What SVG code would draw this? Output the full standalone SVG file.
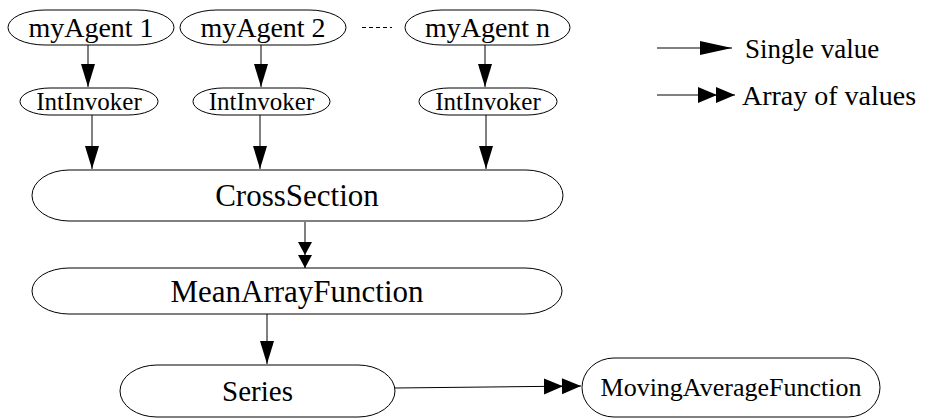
<svg xmlns="http://www.w3.org/2000/svg" width="926" height="419" viewBox="0 0 926 419">
<style>
.n{fill:#fff;stroke:#000;stroke-width:1}
.t{font-family:"Liberation Serif","Times New Roman",serif;fill:#000;text-anchor:middle}
.c{stroke:#000;stroke-width:1;fill:none}
</style>
<defs>
<marker id="one" markerUnits="userSpaceOnUse" markerWidth="26" markerHeight="16" refX="23" refY="7" orient="auto">
<path d="M0,0 L23,7 L0,14 z" fill="#000"/>
</marker>
<marker id="oneLong" markerUnits="userSpaceOnUse" markerWidth="34" markerHeight="16" refX="32" refY="7" orient="auto">
<path d="M0,0 L32,7 L0,14 z" fill="#000"/>
</marker>
<marker id="two" markerUnits="userSpaceOnUse" markerWidth="40" markerHeight="18" refX="37" refY="8" orient="auto">
<path d="M0,0 L19,8 L0,16 z M18,0 L37,8 L18,16 z" fill="#000"/>
</marker>
<marker id="twoShort" markerUnits="userSpaceOnUse" markerWidth="30" markerHeight="16" refX="26" refY="7" orient="auto">
<path d="M0,0 L13,7 L0,14 z M13,0 L26,7 L13,14 z" fill="#000"/>
</marker>
</defs>
<g id="connectors">
<line class="c" x1="88" y1="45" x2="88" y2="87" marker-end="url(#one)"/>
<line class="c" x1="261" y1="45" x2="261" y2="87" marker-end="url(#one)"/>
<line class="c" x1="485" y1="45" x2="485" y2="87" marker-end="url(#one)"/>
<line class="c" x1="92" y1="115" x2="92" y2="169" marker-end="url(#one)"/>
<line class="c" x1="260" y1="115" x2="260" y2="169" marker-end="url(#one)"/>
<line class="c" x1="486" y1="115" x2="486" y2="169" marker-end="url(#one)"/>
<line class="c" x1="305" y1="222" x2="305" y2="268" marker-end="url(#twoShort)"/>
<line class="c" x1="267" y1="314" x2="267" y2="364" marker-end="url(#one)"/>
<line class="c" x1="395" y1="388" x2="581" y2="386" marker-end="url(#two)"/>
<line class="c" x1="362" y1="27.5" x2="392" y2="27.5" stroke-dasharray="4,3" stroke="#555"/>
</g>
<g id="legend">
<line class="c" x1="657" y1="48" x2="732" y2="48" marker-end="url(#oneLong)"/>
<text class="t" x="745" y="58" style="text-anchor:start" font-size="27">Single value</text>
<line class="c" x1="657" y1="95" x2="735" y2="95" marker-end="url(#two)"/>
<text class="t" x="742" y="105" style="text-anchor:start" font-size="28">Array of values</text>
</g>
<g id="myAgent1">
<rect class="n" x="8" y="10" width="166" height="35" rx="37" ry="17.5"/>
<text class="t" x="91" y="37" font-size="28">myAgent 1</text>
</g>
<g id="myAgent2">
<rect class="n" x="180" y="10" width="166" height="35" rx="37" ry="17.5"/>
<text class="t" x="263" y="37" font-size="28">myAgent 2</text>
</g>
<g id="myAgentN">
<rect class="n" x="405" y="10" width="165" height="35" rx="37" ry="17.5"/>
<text class="t" x="487.5" y="37" font-size="28">myAgent n</text>
</g>
<g id="intInvoker1">
<rect class="n" x="20" y="88" width="138" height="27" rx="30" ry="13.5"/>
<text class="t" x="89" y="110" font-size="25">IntInvoker</text>
</g>
<g id="intInvoker2">
<rect class="n" x="193" y="88" width="137" height="27" rx="30" ry="13.5"/>
<text class="t" x="261.5" y="110" font-size="25">IntInvoker</text>
</g>
<g id="intInvokerN">
<rect class="n" x="419" y="88" width="138" height="27" rx="30" ry="13.5"/>
<text class="t" x="488" y="110" font-size="25">IntInvoker</text>
</g>
<g id="crossSection">
<rect class="n" x="32" y="170" width="531" height="51" rx="37" ry="25.5"/>
<text class="t" x="297" y="206" font-size="31">CrossSection</text>
</g>
<g id="meanArrayFunction">
<rect class="n" x="32" y="268" width="530" height="46" rx="37" ry="23"/>
<text class="t" x="297" y="302" font-size="31">MeanArrayFunction</text>
</g>
<g id="series">
<rect class="n" x="120" y="365" width="275" height="52" rx="37" ry="26"/>
<text class="t" x="257.5" y="401" font-size="29">Series</text>
</g>
<g id="movingAverageFunction">
<rect class="n" x="582" y="358" width="298" height="59" rx="32" ry="29.5"/>
<text class="t" x="731" y="396" font-size="26">MovingAverageFunction</text>
</g>
</svg>
